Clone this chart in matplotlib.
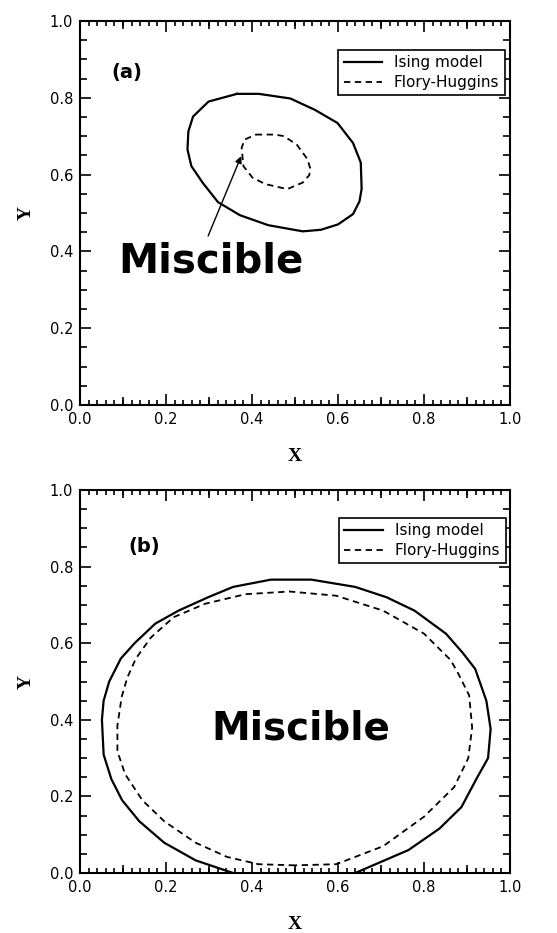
import matplotlib
matplotlib.use('Agg')
import matplotlib.pyplot as plt
from matplotlib.ticker import MultipleLocator
import numpy as np

# ---- data ----
# (a) Ising model, closed curve
xa_ising = [0.365, 0.416, 0.489, 0.547, 0.599, 0.635, 0.653, 0.655, 0.650, 0.635,
            0.600, 0.560, 0.518, 0.438, 0.372, 0.321, 0.285, 0.259, 0.250, 0.252,
            0.263, 0.299, 0.365]
ya_ising = [0.810, 0.810, 0.798, 0.768, 0.734, 0.682, 0.631, 0.563, 0.530, 0.497,
            0.470, 0.456, 0.452, 0.468, 0.494, 0.528, 0.579, 0.622, 0.665, 0.712,
            0.751, 0.790, 0.810]
# (a) Flory-Huggins, closed curve
xa_fh = [0.409, 0.453, 0.474, 0.504, 0.529, 0.536, 0.533, 0.518, 0.482, 0.431,
         0.401, 0.380, 0.376, 0.383, 0.409]
ya_fh = [0.704, 0.704, 0.700, 0.678, 0.640, 0.614, 0.598, 0.579, 0.562, 0.575,
         0.592, 0.622, 0.670, 0.691, 0.704]

# (b) Ising model, cut by the x axis
xb_ising = [0.356, 0.269, 0.196, 0.138, 0.098, 0.073, 0.055, 0.051, 0.055, 0.068,
            0.095, 0.127, 0.175, 0.229, 0.298, 0.356, 0.444, 0.538, 0.640, 0.713,
            0.778, 0.851, 0.890, 0.919, 0.945, 0.955, 0.949, 0.924, 0.887, 0.836,
            0.764, 0.669, 0.640]
yb_ising = [0.000, 0.033, 0.079, 0.135, 0.190, 0.245, 0.309, 0.400, 0.450, 0.500,
            0.560, 0.600, 0.651, 0.685, 0.720, 0.747, 0.766, 0.766, 0.747, 0.720,
            0.685, 0.625, 0.575, 0.533, 0.450, 0.376, 0.300, 0.250, 0.172, 0.116,
            0.060, 0.014, 0.000]
# (b) Flory-Huggins, closed curve
xb_fh = [0.500, 0.415, 0.342, 0.269, 0.196, 0.145, 0.105, 0.087, 0.087, 0.097,
         0.110, 0.130, 0.165, 0.218, 0.291, 0.385, 0.487, 0.596, 0.705, 0.800,
         0.862, 0.880, 0.905, 0.912, 0.903, 0.870, 0.800, 0.705, 0.596, 0.500]
yb_fh = [0.020, 0.023, 0.042, 0.079, 0.135, 0.190, 0.258, 0.318, 0.385, 0.460,
         0.510, 0.560, 0.615, 0.668, 0.703, 0.728, 0.735, 0.724, 0.685, 0.625,
         0.556, 0.520, 0.464, 0.380, 0.300, 0.224, 0.147, 0.070, 0.023, 0.020]

labels = ['Ising model', 'Flory-Huggins']
panel_tags = ['(a)', '(b)']

fig = plt.figure(figsize=(5.57, 9.33), dpi=100)


def style_axes(ax):
    ax.set_xlim(0, 1)
    ax.set_ylim(0, 1)
    ax.xaxis.set_major_locator(MultipleLocator(0.2))
    ax.xaxis.set_minor_locator(MultipleLocator(0.02))
    ax.yaxis.set_major_locator(MultipleLocator(0.2))
    ax.yaxis.set_minor_locator(MultipleLocator(0.05))
    ax.tick_params(which='both', direction='in', top=True, right=True,
                   labelsize=10.5, width=1.2)
    ax.tick_params(which='major', length=8)
    ax.tick_params(axis='x', which='minor', length=3.5)
    ax.tick_params(axis='y', which='minor', length=5)
    ax.tick_params(axis='x', pad=5)
    ax.tick_params(axis='y', pad=5)
    # medium ticks at the odd tenths
    for side in ['bottom', 'top']:
        sec = ax.secondary_xaxis(side)
        sec.set_xticks(np.arange(0.1, 1.0, 0.2))
        sec.tick_params(direction='in', length=5.5, width=1.2,
                        labelbottom=False, labeltop=False)
        sec.spines[side].set_visible(False)
    for s in ax.spines.values():
        s.set_linewidth(1.5)
    ax.set_xlabel('X', family='Liberation Serif', fontweight='bold',
                  fontsize=14, labelpad=15)
    ax.set_ylabel('Y', family='Liberation Serif', fontweight='bold',
                  fontsize=14, labelpad=11)


#_____________________________ (a) _______________________________
ax1 = fig.add_axes([0.1436, 0.566, 0.772, 0.4116])
ax1.plot(xa_ising, ya_ising, 'k-', lw=1.6, label=labels[0])
ax1.plot(xa_fh, ya_fh, 'k--', lw=1.3, dashes=(3.5, 2.5), label=labels[1])
style_axes(ax1)
ax1.text(0.072, 0.865, panel_tags[0], fontsize=14, fontweight='bold',
         va='center', ha='left')
ax1.text(0.09, 0.345, 'Miscible', fontsize=29, fontweight='bold',
         va='baseline', ha='left')
ax1.annotate('', xy=(0.375, 0.648), xytext=(0.298, 0.44),
             arrowprops=dict(arrowstyle='-|>', color='k', lw=1.0,
                             mutation_scale=10, shrinkA=0, shrinkB=0))
leg = ax1.legend(loc='upper right', bbox_to_anchor=(0.988, 0.924), fontsize=11,
                 frameon=True, fancybox=False, framealpha=1, edgecolor='k',
                 handlelength=2.5, handletextpad=0.8, labelspacing=0.3,
                 borderpad=0.35, borderaxespad=0)
leg.get_frame().set_linewidth(1.2)

#_____________________________ (b) _______________________________
ax2 = fig.add_axes([0.1436, 0.0643, 0.772, 0.4105])
ax2.plot(xb_ising, yb_ising, 'k-', lw=1.6, label=labels[0])
ax2.plot(xb_fh, yb_fh, 'k--', lw=1.3, dashes=(3.5, 2.5), label=labels[1])
style_axes(ax2)
ax2.text(0.113, 0.853, panel_tags[1], fontsize=14, fontweight='bold',
         va='center', ha='left')
ax2.text(0.513, 0.349, 'Miscible', fontsize=28, fontweight='bold',
         va='baseline', ha='center')
leg = ax2.legend(loc='upper right', bbox_to_anchor=(0.99, 0.927), fontsize=11,
                 frameon=True, fancybox=False, framealpha=1, edgecolor='k',
                 handlelength=2.5, handletextpad=0.8, labelspacing=0.3,
                 borderpad=0.35, borderaxespad=0)
leg.get_frame().set_linewidth(1.2)

plt.savefig('out.png', dpi=100)
